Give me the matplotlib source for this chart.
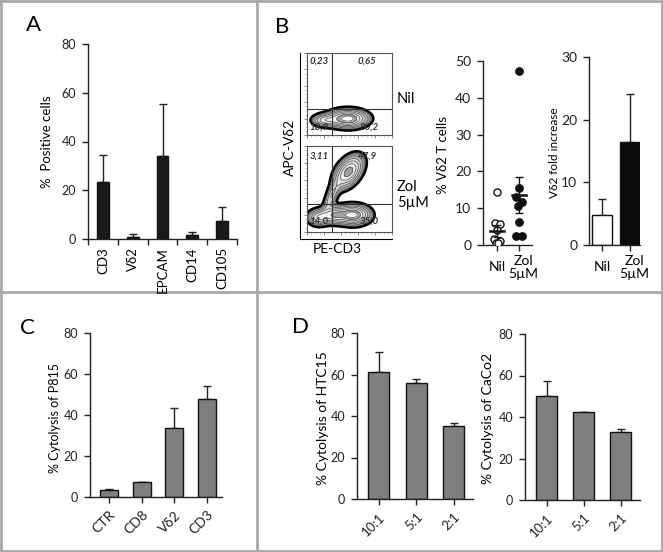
import numpy as np
import matplotlib
matplotlib.use('Agg')
from matplotlib import pyplot as plt

plt.rcParams['font.family'] = ['Lato', 'DejaVu Sans']

# panel A - marker expression
a_labels = ['CD3', 'V\u03b42', 'EPCAM', 'CD14', 'CD105']
a_vals = [23.5, 1.0, 34.0, 1.5, 7.3]
a_errs = [11.0, 1.0, 21.4, 1.5, 5.8]

# panel B - flow quadrant percentages (UL, UR, LL, LR)
nil_quads = ['0,23', '0,65', '18,9', '80,2']
zol_quads = ['3,11', '47,9', '14,0', '35,0']

# contour blobs (x, y, sx, sy, rho, weight) in decades
nil_blobs = [
    [2.4, 1.0, 0.70, 0.34, 0.0, 1.0],
    [1.0, 0.90, 0.45, 0.24, 0.0, 0.45],
]
zol_blobs = [
    [2.45, 3.5, 0.52, 0.58, 0.45, 0.85],
    [1.45, 2.1, 0.30, 0.55, 0.7, 0.45],
    [2.7, 1.0, 0.60, 0.35, 0.0, 1.0],
    [0.7, 0.85, 0.40, 0.30, 0.0, 0.6],
    [1.6, 1.0, 0.40, 0.30, 0.0, 0.6],
]

# panel B - % Vd2 T cells scatter
nil_pts = [14.5, 5.9, 5.7, 4.2, 1.5, 1.0, 0.6, 0.5]
nil_jit = [0.05, -0.45, 0.55, 0.0, -0.5, 0.45, -0.2, 0.2]
zol_pts = [47.4, 15.4, 13.1, 11.8, 10.7, 6.3, 2.5, 2.5]
zol_jit = [0.0, 0.05, -0.6, 0.6, -0.1, 0.0, -0.6, 0.55]
nil_mean, nil_sem = 3.7, 1.6
zol_mean, zol_sem = 13.6, 5.0

# panel B - fold increase
fold_vals = [4.8, 16.5]
fold_errs = [2.5, 7.6]
b_groups = ['Nil', 'Zol\n5\u00b5M']

# panel C - P815 cytolysis
c_labels = ['CTR', 'CD8', 'V\u03b42', 'CD3']
c_vals = [3.3, 7.1, 33.5, 48.0]
c_errs = [0.8, 0.2, 10.0, 6.0]

# panel D - tumour cytolysis
d_labels = ['10:1', '5:1', '2:1']
htc_vals = [61.2, 56.0, 35.0]
htc_errs = [9.5, 1.8, 1.5]
caco_vals = [49.9, 42.2, 33.0]
caco_errs = [7.6, 0.0, 1.4]

W, H = 663, 552
fig = plt.figure(figsize=(W / 100, H / 100), dpi=100)


def rect(l, t, r, b):
    return [l / W, 1 - b / H, (r - l) / W, (b - t) / H]


def ftext(x, y, s, **kw):
    fig.text(x / W, 1 - y / H, s, **kw)


def style(ax, ymax, step, size=9):
    for sp in ['top', 'right']:
        ax.spines[sp].set_visible(False)
    for sp in ['left', 'bottom']:
        ax.spines[sp].set_linewidth(1)
        ax.spines[sp].set_color('#222222')
    ax.set_ylim(0, ymax)
    ax.set_yticks(np.arange(0, ymax + 1, step))
    ax.tick_params(direction='out', length=4.5, width=1, labelsize=size, pad=4,
                   colors='#222222')


def bars(ax, vals, errs, color, width):
    x = np.arange(len(vals))
    ax.errorbar(x, vals, yerr=[np.zeros(len(errs)), errs], fmt='none',
                ecolor='#222222', elinewidth=1, capsize=3, capthick=1, zorder=1)
    ax.bar(x, vals, width=width, color=color, edgecolor='#111111', linewidth=1, zorder=2)
    return x


# background frame
bg = fig.add_axes([0, 0, 1, 1], zorder=-5)
bg.set_xlim(0, W)
bg.set_ylim(H, 0)
bg.axis('off')
fc = '#a8a8a8'
bg.plot([1, W - 1, W - 1, 1, 1], [1, 1, H - 1, H - 1, 1], color=fc, lw=2)
bg.plot([257, 257], [0, H], color=fc, lw=2)
bg.plot([0, W], [292, 292], color=fc, lw=2)

# ---- A ----
ax = fig.add_axes(rect(88, 44, 237, 239))
style(ax, 80, 20)
x = bars(ax, a_vals, a_errs, '#1a1a1a', 0.4)
ax.set_xlim(-0.5, 4.5)
ax.set_xticks(np.arange(-0.5, 5, 1))
ax.set_xticklabels([])
for i, lab in enumerate(a_labels):
    ax.annotate(lab, xy=(i, 0), xycoords=('data', 'axes fraction'), xytext=(0, -6),
                textcoords='offset points', rotation=90, ha='center', va='top', fontsize=9.5)
ftext(47, 142, '%  Positive cells', rotation=90, ha='center', va='center', fontsize=9.5)
ftext(33, 25, 'A', ha='center', va='center', fontsize=16)

# ---- B flow ----
outer = fig.add_axes(rect(300, 53, 392, 239))
outer.set_xticks([])
outer.set_yticks([])
outer.spines['top'].set_visible(False)
outer.spines['right'].set_visible(False)
outer.patch.set_alpha(0)

gx, gy = np.meshgrid(np.linspace(0, 5, 250), np.linspace(0, 5, 250))


def dens(blobs):
    z = np.zeros_like(gx)
    for cx, cy, sx, sy, rho, w in blobs:
        dx = (gx - cx) / sx
        dy = (gy - cy) / sy
        z += w * np.exp(-(dx ** 2 - 2 * rho * dx * dy + dy ** 2) / (2 * (1 - rho ** 2)))
    return z / z.max()


lev = [0.1, 0.16, 0.24, 0.34, 0.46, 0.6, 0.75, 0.9, 1.01]
cols = ['#6e6e6e', '#9c9c9c', '#bdbdbd', '#d4d4d4', '#e6e6e6', '#f2f2f2', '#a0a0a0', '#ffffff']


def flow(rc, blobs, quads, qy, tpos):
    fx = fig.add_axes(rect(*rc))
    z = dens(blobs)
    fx.contourf(gx, gy, z, levels=lev, colors=cols)
    fx.contour(gx, gy, z, levels=lev[1:-1], colors='#5a5a5a', linewidths=0.6)
    fx.contour(gx, gy, z, levels=[lev[0]], colors='black', linewidths=1.8)
    fx.axvline(1.47, color='#333333', lw=0.8)
    fx.axhline(qy, color='#333333', lw=0.8)
    fx.set_xlim(0, 5)
    fx.set_ylim(0, 5)
    fx.set_xticks(np.arange(0, 5.1, 1))
    fx.set_yticks(np.arange(0, 5.1, 1))
    fx.set_xticks(np.arange(0, 5, 0.25), minor=True)
    fx.set_yticks(np.arange(0, 5, 0.25), minor=True)
    fx.set_xticklabels([])
    fx.set_yticklabels([])
    fx.tick_params(direction='out', length=2.5, width=0.6, colors='#777777')
    fx.tick_params(which='minor', direction='out', length=1.2, width=0.4, colors='#999999')
    for sp in fx.spines.values():
        sp.set_linewidth(0.8)
        sp.set_color('#555555')
    for (qx, qyy), s in zip(tpos, quads):
        fx.text(qx, qyy, s, transform=fx.transAxes, fontsize=7, style='italic',
                fontweight='bold', color='#333333', ha='left', va='center', zorder=5)


flow((307, 53, 392, 135), nil_blobs, nil_quads, 1.6,
     [(0.03, 0.9), (0.6, 0.9), (0.03, 0.09), (0.62, 0.09)])
flow((307, 146, 392, 232), zol_blobs, zol_quads, 1.65,
     [(0.03, 0.88), (0.6, 0.88), (0.03, 0.13), (0.62, 0.13)])
ftext(397, 99, 'Nil', ha='left', va='center', fontsize=10.5)
ftext(397, 195, 'Zol\n5\u00b5M', ha='left', va='center', fontsize=10.5, linespacing=1.2)
ftext(290, 147, 'APC-V\u03b42', rotation=90, ha='center', va='center', fontsize=10)
ftext(337, 249, 'PE-CD3', ha='center', va='center', fontsize=10)
ftext(282, 27, 'B', ha='center', va='center', fontsize=16)


def group_labels(ax):
    ax.set_xticks([0, 1])
    ax.set_xticklabels([])
    for i, lab in enumerate(b_groups):
        ax.annotate(lab, xy=(i, 0), xycoords=('data', 'axes fraction'), xytext=(i * 3, -16),
                    textcoords='offset points', ha='center', va='center', fontsize=10,
                    linespacing=1.1)


# ---- B scatter ----
ax = fig.add_axes(rect(483, 61, 532, 245))
style(ax, 50, 10, 10)
ax.set_xlim(-0.64, 1.59)
ax.scatter(np.array(nil_jit) * 0.25, nil_pts, s=26, facecolors='white', edgecolors='#111111',
           linewidths=1, zorder=3)
ax.scatter(1 + np.array(zol_jit) * 0.25, zol_pts, s=28, color='#111111', zorder=3)
for i, (m, e) in enumerate([(nil_mean, nil_sem), (zol_mean, zol_sem)]):
    ax.plot([i - 0.32, i + 0.32], [m, m], color='#111111', lw=1.8, zorder=4)
    ax.errorbar([i], [m], yerr=[[e], [e]], fmt='none', ecolor='#111111', elinewidth=1,
                capsize=3, capthick=1, zorder=4)
group_labels(ax)
ftext(443, 155, '% V\u03b42 T cells', rotation=90, ha='center', va='center', fontsize=9.5)

# ---- B fold ----
ax = fig.add_axes(rect(589, 57, 640, 245))
style(ax, 30, 10, 10)
ax.set_xlim(-0.46, 1.36)
ax.errorbar([0, 1], fold_vals, yerr=[[0, 0], fold_errs], fmt='none', ecolor='#222222',
            elinewidth=1, capsize=3, capthick=1, zorder=1)
ax.bar([0, 1], fold_vals, width=0.71, color=['white', '#0a0a0a'], edgecolor='#111111',
       linewidth=1, zorder=2)
group_labels(ax)
ftext(555, 153, 'V\u03b42 fold increase', rotation=90, ha='center', va='center', fontsize=8.5)

# ---- C ----
ax = fig.add_axes(rect(90, 333, 222, 497))
style(ax, 80, 20)
x = bars(ax, c_vals, c_errs, '#7f7f7f', 0.55)
ax.set_xlim(-0.58, 3.46)
ax.set_xticks(x)
ax.set_xticklabels(c_labels, rotation=45, ha='right', rotation_mode='anchor', fontsize=10)
ftext(55, 418, '% Cytolysis of P815', rotation=90, ha='center', va='center', fontsize=9)
ftext(27, 328, 'C', ha='center', va='center', fontsize=16)

# ---- D ----
for rc, vals, errs, lab, lx in [((357, 333, 473, 499), htc_vals, htc_errs, '% Cytolysis of HTC15', 323),
                                ((525, 334, 640, 500), caco_vals, caco_errs, '% Cytolysis of CaCo2', 488)]:
    ax = fig.add_axes(rect(*rc))
    style(ax, 80, 20)
    x = bars(ax, vals, errs, '#7f7f7f', 0.56)
    ax.set_xlim(-0.58, 2.52)
    ax.set_xticks(x)
    ax.set_xticklabels(d_labels, rotation=45, ha='right', rotation_mode='anchor', fontsize=9.5)
    ftext(lx, 418, lab, rotation=90, ha='center', va='center', fontsize=10)
ftext(300, 327, 'D', ha='center', va='center', fontsize=16)

fig.savefig('out.png', dpi=100)
